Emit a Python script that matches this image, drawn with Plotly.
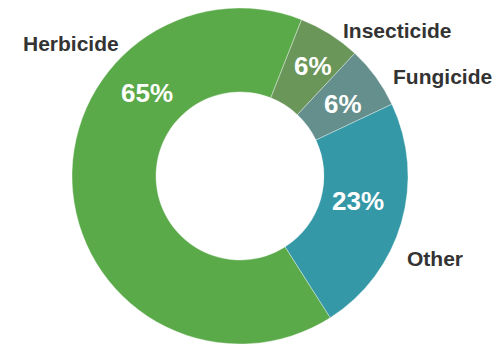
import plotly.graph_objects as go

categories = ["Herbicide", "Insecticide", "Fungicide", "Other"]
values = [65, 6, 6, 23]
pct_labels = ["65%", "6%", "6%", "23%"]
colors = ["#5BAA4A", "#6B965A", "#648F8C", "#3498A6"]

W, H = 498, 344
cx, cy, R = 240, 176, 168

fig = go.Figure(go.Pie(
    labels=categories,
    values=values,
    hole=0.5,
    sort=False,
    direction="clockwise",
    rotation=147.5,
    textinfo="none",
    marker=dict(colors=colors, line=dict(color="rgba(255,255,255,0.6)", width=0.6)),
    domain=dict(x=[(cx - R) / W, (cx + R) / W], y=[(H - cy - R) / H, (H - cy + R) / H]),
    showlegend=False,
    hoverinfo="label+percent",
))

# text positions (pixels from top-left)
label_pos = [(71, 43), (397, 31), (442, 77), (435, 258)]
pct_pos = [(147, 93), (313, 66), (343, 104), (358, 201)]

ann = []
for name, (px, py) in zip(categories, label_pos):
    ann.append(dict(text="<b>" + name + "</b>", x=px / W, y=1 - py / H, xref="paper", yref="paper",
                    showarrow=False, xanchor="center", yanchor="middle",
                    font=dict(family="Liberation Sans, Arial", size=21, color="#333333")))
for t, (px, py) in zip(pct_labels, pct_pos):
    ann.append(dict(text="<b>" + t + "</b>", x=px / W, y=1 - py / H, xref="paper", yref="paper",
                    showarrow=False, xanchor="center", yanchor="middle",
                    font=dict(family="Liberation Sans, Arial", size=26, color="white")))

fig.update_layout(
    width=W, height=H,
    margin=dict(l=0, r=0, t=0, b=0),
    paper_bgcolor="white", plot_bgcolor="white",
    annotations=ann,
)

fig.write_html("out.html")
